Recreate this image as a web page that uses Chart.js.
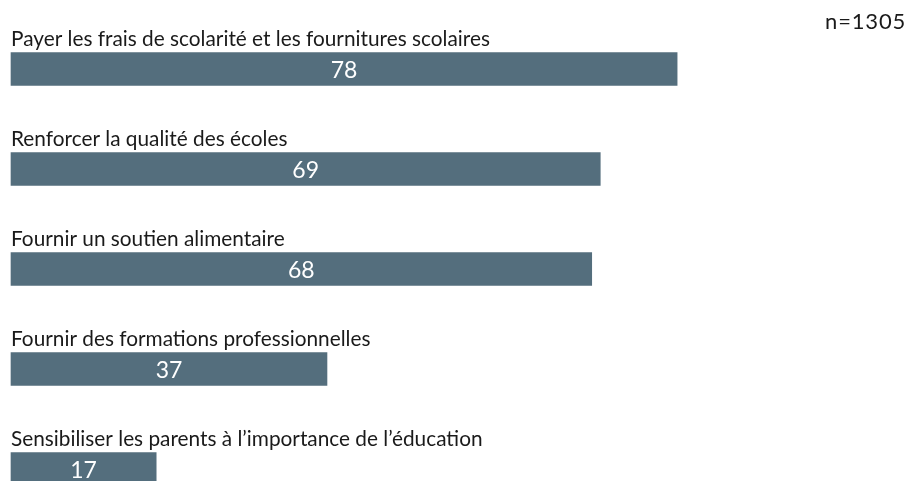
<!DOCTYPE html>
<html>
<head>
<meta charset="utf-8">
<script src="https://cdn.jsdelivr.net/npm/chart.js@4"></script>
<style>
  html, body { margin: 0; padding: 0; background: #fff; }
  #wrap { width: 910px; height: 481px; position: relative; }
</style>
</head>
<body>
<div id="wrap"><canvas id="chart"></canvas></div>
<script>
// Answer categories and share (%) of respondents
const categories = [
  'Payer les frais de scolarité et les fournitures scolaires',
  'Renforcer la qualité des écoles',
  'Fournir un soutien alimentaire',
  'Fournir des formations professionnelles',
  'Sensibiliser les parents à l\u2019importance de l\u2019éducation'
];
const values = [78, 69, 68, 37, 17];
const sampleNote = 'n=1305';

const FONT = "Lato, 'Open Sans', sans-serif";
const BAR_COLOR = '#546e7d';

// Category names above each bar, value centred inside
const barLabels = {
  id: 'barLabels',
  afterDatasetsDraw(chart) {
    const ctx = chart.ctx;
    const meta = chart.getDatasetMeta(0);
    const left = chart.chartArea.left;
    ctx.save();
    meta.data.forEach((bar, i) => {
      const top = bar.y - bar.height / 2;
      ctx.fillStyle = '#1a1a1a';
      ctx.font = '20.8px ' + FONT;
      ctx.textAlign = 'left';
      ctx.textBaseline = 'alphabetic';
      ctx.fillText(categories[i], left, top - 7);

      ctx.fillStyle = '#ffffff';
      ctx.font = '23px ' + FONT;
      ctx.textAlign = 'center';
      ctx.textBaseline = 'middle';
      ctx.fillText(String(values[i]), (bar.base + bar.x) / 2, bar.y + 1.5);
    });
    ctx.fillStyle = '#1a1a1a';
    ctx.font = '22px ' + FONT;
    ctx.letterSpacing = '0.8px';
    ctx.textAlign = 'right';
    ctx.textBaseline = 'alphabetic';
    ctx.fillText(sampleNote, 906, 29);
    ctx.restore();
  }
};

new Chart(document.getElementById('chart'), {
  type: 'bar',
  data: {
    labels: categories,
    datasets: [{
      data: values,
      backgroundColor: BAR_COLOR,
      barThickness: 33,
      clip: false
    }]
  },
  options: {
    indexAxis: 'y',
    responsive: true,
    maintainAspectRatio: false,
    animation: false,
    layout: { padding: { left: 11, right: 45, top: 69, bottom: 12 } },
    plugins: {
      legend: { display: false },
      tooltip: { enabled: false }
    },
    scales: {
      x: { display: false, min: 0, max: 100 },
      y: { display: false, offset: false, grid: { offset: false } }
    }
  },
  plugins: [barLabels]
});
</script>
</body>
</html>
